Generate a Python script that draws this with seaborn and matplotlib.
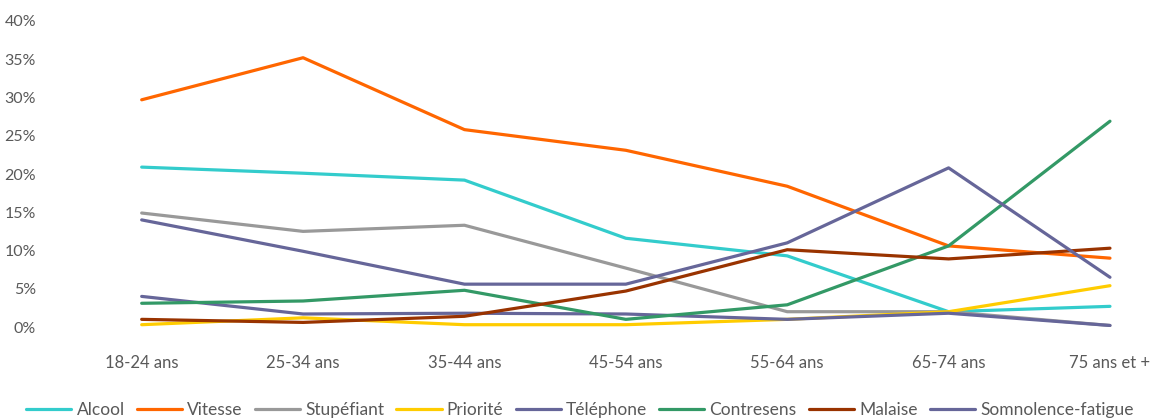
import pandas as pd
import matplotlib.pyplot as plt
import seaborn as sns

ages = ['18-24 ans', '25-34 ans', '35-44 ans', '45-54 ans', '55-64 ans', '65-74 ans', '75 ans et +']

alcool = [20.9, 20.1, 19.2, 11.6, 9.3, 2.0, 2.7]
vitesse = [29.7, 35.2, 25.8, 23.1, 18.4, 10.6, 9.0]
stupefiant = [14.9, 12.5, 13.3, 7.7, 2.0, 2.0, 0.2]
priorite = [0.3, 1.2, 0.3, 0.3, 1.0, 2.0, 5.4]
telephone = [4.0, 1.7, 1.8, 1.7, 1.0, 1.8, 0.2]
contresens = [3.1, 3.4, 4.8, 1.0, 2.9, 10.6, 26.9]
malaise = [1.0, 0.6, 1.4, 4.7, 10.1, 8.9, 10.3]
somnolence = [14.0, 9.9, 5.6, 5.6, 11.0, 20.8, 6.5]

series = {
    'Alcool': alcool,
    'Vitesse': vitesse,
    'Stupéfiant': stupefiant,
    'Priorité': priorite,
    'Téléphone': telephone,
    'Contresens': contresens,
    'Malaise': malaise,
    'Somnolence-fatigue': somnolence,
}
couleurs = {
    'Alcool': '#33CCCC',
    'Vitesse': '#FF6600',
    'Stupéfiant': '#999999',
    'Priorité': '#FFCC00',
    'Téléphone': '#666699',
    'Contresens': '#339966',
    'Malaise': '#993300',
    'Somnolence-fatigue': '#666699',
}

rows = []
for nom, vals in series.items():
    for i, v in enumerate(vals):
        rows.append({'age': i, 'cause': nom, 'part': v})
df = pd.DataFrame(rows)

sns.set_style('white')
plt.rcParams['font.family'] = ['Lato', 'DejaVu Sans']
gris = '#595959'

fig = plt.figure(figsize=(11.6, 4.19), dpi=100)
ax = fig.add_axes([61 / 1160, 92 / 419, 1099 / 1160, 306 / 419])

sns.lineplot(data=df, x='age', y='part', hue='cause', hue_order=list(series.keys()),
             palette=couleurs, linewidth=2.3, sort=False, ax=ax)

ax.set_xlim(-0.5, 6.31)
ax.set_ylim(0, 40)
ax.set_yticks(range(0, 41, 5))
ax.set_yticklabels([f'{t}%' for t in range(0, 41, 5)])
ax.set_xticks(range(len(ages)))
ax.set_xticklabels(ages)
ax.tick_params(axis='x', length=0, pad=20, labelsize=12, colors=gris)
ax.tick_params(axis='y', length=0, pad=18, labelsize=11.5, colors=gris)
for s in ax.spines.values():
    s.set_visible(False)
ax.set_xlabel('')
ax.set_ylabel('')

handles, labels = ax.get_legend_handles_labels()
ax.legend_.remove()
fig.legend(handles, labels, loc='center', bbox_to_anchor=(0.5, 9 / 419), ncol=8,
           frameon=False, fontsize=12.5, handlelength=2.6, handletextpad=0.3,
           columnspacing=0.7, labelcolor=gris)

fig.savefig('out.png', dpi=100)
